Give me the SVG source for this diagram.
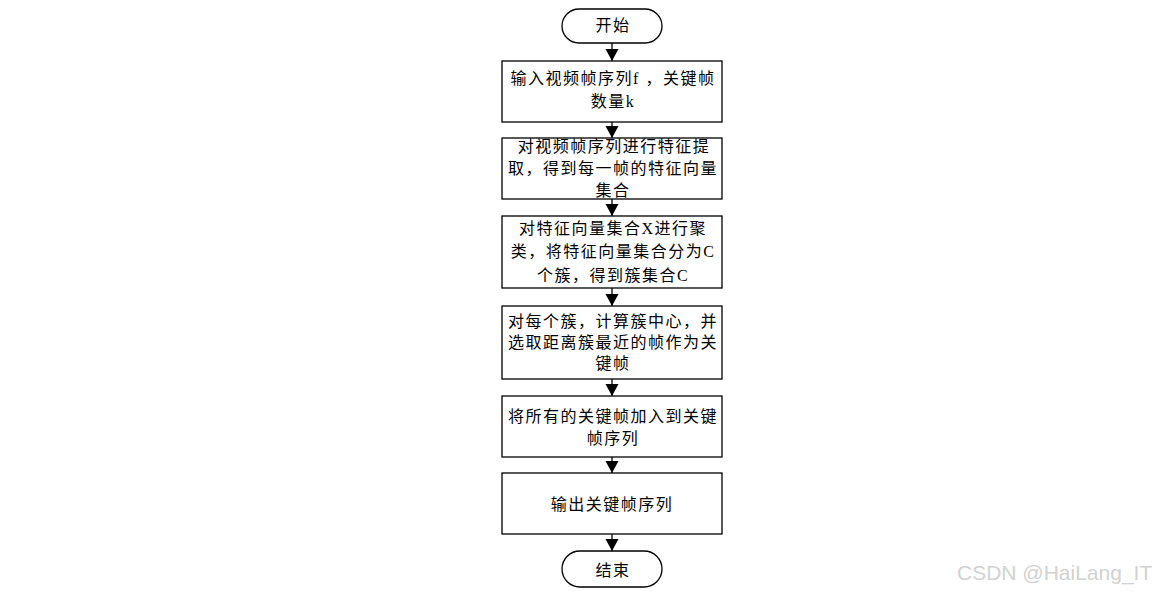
<svg xmlns="http://www.w3.org/2000/svg" width="1154" height="593" viewBox="0 0 1154 593">
<style>
.box{fill:#fff;stroke:#000;stroke-width:1.3}
.t{font-family:"Liberation Serif","Noto Sans CJK SC",serif;font-size:16px;fill:#000;text-anchor:middle;letter-spacing:1.5px}
.c{stroke:#000;stroke-width:1.3;fill:none;marker-end:url(#ah)}
.wm{font-family:"Liberation Sans","Noto Sans",sans-serif;font-size:21px;fill:#d2d2d2}
</style>
<defs>
<marker id="ah" markerUnits="userSpaceOnUse" markerWidth="14" markerHeight="14" refX="12" refY="6.5" orient="auto">
<path d="M0,0 L12,6.5 L0,13 Z" fill="#000"/>
</marker>
</defs>
<rect width="1154" height="593" fill="#fff"/>
<g id="connectors">
<line class="c" x1="612" y1="43" x2="612" y2="61"/>
<line class="c" x1="612" y1="122" x2="612" y2="138"/>
<line class="c" x1="612" y1="199" x2="612" y2="216"/>
<line class="c" x1="612" y1="288" x2="612" y2="306"/>
<line class="c" x1="612" y1="379" x2="612" y2="396"/>
<line class="c" x1="612" y1="457" x2="612" y2="473"/>
<line class="c" x1="612" y1="534" x2="612" y2="551"/>
</g>
<g id="start">
<rect class="box" x="562" y="9" width="100" height="34" rx="17"/>
<text class="t" x="613" y="31">开始</text>
</g>
<g id="n1">
<rect class="box" x="502" y="61" width="220" height="61"/>
<text class="t" x="613" y="84">输入视频帧序列f ，关键帧</text>
<text class="t" x="613" y="107">数量k</text>
</g>
<g id="n2">
<rect class="box" x="502" y="138" width="220" height="61"/>
<text class="t" x="614" y="152">对视频帧序列进行特征提</text>
<text class="t" x="613" y="174">取，得到每一帧的特征向量</text>
<text class="t" x="613" y="196">集合</text>
</g>
<g id="n3">
<rect class="box" x="502" y="216" width="220" height="72"/>
<text class="t" x="613" y="234">对特征向量集合X进行聚</text>
<text class="t" x="613" y="257">类，将特征向量集合分为C</text>
<text class="t" x="613" y="281">个簇，得到簇集合C</text>
</g>
<g id="n4">
<rect class="box" x="502" y="306" width="220" height="73"/>
<text class="t" x="613" y="327">对每个簇，计算簇中心，并</text>
<text class="t" x="613" y="348">选取距离簇最近的帧作为关</text>
<text class="t" x="613" y="369">键帧</text>
</g>
<g id="n5">
<rect class="box" x="502" y="396" width="220" height="61"/>
<text class="t" x="613" y="422">将所有的关键帧加入到关键</text>
<text class="t" x="613" y="444">帧序列</text>
</g>
<g id="n6">
<rect class="box" x="502" y="473" width="220" height="61"/>
<text class="t" x="612" y="510">输出关键帧序列</text>
</g>
<g id="end">
<rect class="box" x="562" y="551" width="100" height="36" rx="18"/>
<text class="t" x="613" y="576">结束</text>
</g>
<text class="wm" x="957" y="580">CSDN @HaiLang_IT</text>
</svg>
